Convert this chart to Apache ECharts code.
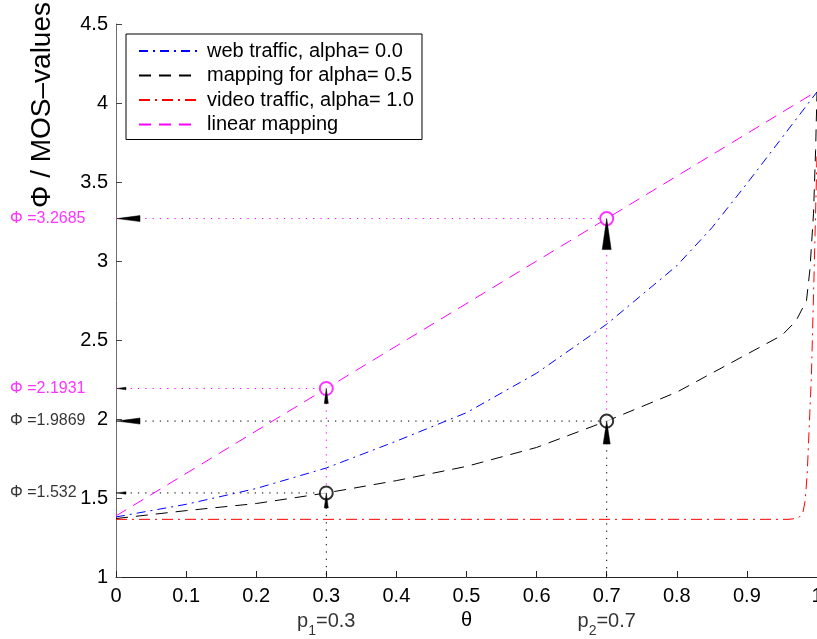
<!DOCTYPE html>
<html>
<head>
<meta charset="utf-8">
<script src="https://cdn.jsdelivr.net/npm/echarts@6/dist/echarts.min.js"></script>
<style>html,body{margin:0;padding:0;background:#fff;}#c{width:817px;height:639px;}</style>
</head>
<body>
<div id="c"></div>
<script>
// ---- data ----
const webX   = [0, 0.1, 0.2, 0.3, 0.4, 0.5, 0.6, 0.7, 0.8, 0.85, 0.9, 0.95, 1.0];
const webY   = [1.38, 1.46, 1.56, 1.69, 1.86, 2.04, 2.29, 2.60, 2.97, 3.21, 3.49, 3.78, 4.07];
const midX   = [0, 0.1, 0.2, 0.3, 0.4, 0.5, 0.6, 0.7, 0.8, 0.85, 0.9, 0.95, 0.97, 0.985, 0.99, 0.995, 0.998, 1.0];
const midY   = [1.37, 1.42, 1.465, 1.532, 1.61, 1.70, 1.82, 1.987, 2.17, 2.29, 2.41, 2.53, 2.62, 2.75, 2.95, 3.3, 3.7, 4.07];
const videoX = [0, 0.5, 0.96, 0.97, 0.975, 0.98, 0.983, 0.986, 0.992, 0.996, 1.0];
const videoY = [1.365, 1.365, 1.365, 1.37, 1.38, 1.41, 1.48, 1.65, 2.27, 2.95, 3.67];
const linX   = [0, 0.3, 0.7, 1.0];
const linY   = [1.3866, 2.1931, 3.2685, 4.0751];
const pPoints = [0.3, 0.7];
const phiLin  = [2.1931, 3.2685];
const phiMid  = [1.532, 1.9869];
const seriesNames = ['web traffic, alpha= 0.0', 'mapping for alpha= 0.5', 'video traffic, alpha= 1.0', 'linear mapping'];
const xTicks = [0, 0.1, 0.2, 0.3, 0.4, 0.5, 0.6, 0.7, 0.8, 0.9, 1];
const yTicks = [1, 1.5, 2, 2.5, 3, 3.5, 4, 4.5];

// ---- styles ----
const FONT = "'Liberation Sans', Arial, Helvetica, sans-serif";
const MAG = '#ff00ff';
const zip = (xs, ys) => xs.map((x, i) => [x, ys[i]]);

const series = [];
function curve(name, xs, ys, color, dash) {
  series.push({
    name, type: 'line', data: zip(xs, ys), showSymbol: false, symbol: 'none',
    smooth: false, lineStyle: { color, width: 1, type: dash }, itemStyle: { color }, z: 3
  });
}
curve(seriesNames[0], webX, webY, '#0000ff', [9, 5, 2, 5]);
curve(seriesNames[1], midX, midY, '#000000', [12, 8]);
curve(seriesNames[2], videoX, videoY, '#ff0000', [11, 5, 2, 5]);
curve(seriesNames[3], linX, linY, MAG, [12, 8]);

// dotted guide lines
function guide(a, b, color) {
  series.push({
    type: 'line', data: [a, b], showSymbol: false, symbol: 'none', silent: true,
    lineStyle: { color, width: 1, type: [1.3, 6] }, z: 2, legendHoverLink: false
  });
}
pPoints.forEach((p, i) => {
  guide([0, phiLin[i]], [p, phiLin[i]], MAG);
  guide([p, phiLin[i]], [p, phiMid[i]], MAG);
  guide([0, phiMid[i]], [p, phiMid[i]], '#000');
  guide([p, phiMid[i]], [p, yTicks[0]], '#000');
});

// circle markers
series.push({
  type: 'scatter', symbol: 'emptyCircle', symbolSize: 13, z: 5, silent: true,
  data: pPoints.map((p, i) => ({ value: [p, phiLin[i]], itemStyle: { color: MAG, borderColor: MAG, borderWidth: 1 } }))
    .concat(pPoints.map((p, i) => ({ value: [p, phiMid[i]], itemStyle: { color: '#000', borderColor: '#000', borderWidth: 1 } })))
});

// arrows: tip points; dir 0 = pointing up (tail below), 1 = pointing left (tail right)
const arrowTips = [];
const arrowSize = [];   // [length px, width px]
pPoints.forEach((p, i) => {
  arrowTips.push([p, phiLin[i], 0]); arrowSize.push(i ? [31, 9] : [15, 4]);
  arrowTips.push([p, phiMid[i], 0]); arrowSize.push(i ? [23, 7] : [15, 4]);
  arrowTips.push([0, phiLin[i], 1]); arrowSize.push(i ? [24, 6] : [10, 2.5]);
  arrowTips.push([0, phiMid[i], 1]); arrowSize.push(i ? [24, 6] : [10, 2.5]);
});
series.push({
  type: 'custom', z: 6, silent: true, clip: false,
  data: arrowTips,
  encode: { x: 0, y: 1 },
  renderItem: function (params, api) {
    const t = api.coord([api.value(0), api.value(1)]);
    const s = arrowSize[params.dataIndex];
    const len = s[0], hw = s[1] / 2;
    let pts;
    if (api.value(2) === 0) pts = [[t[0], t[1]], [t[0] - hw, t[1] + len], [t[0] + hw, t[1] + len]];
    else pts = [[t[0] + 1, t[1]], [t[0] + len, t[1] - hw], [t[0] + len, t[1] + hw]];
    return { type: 'polygon', shape: { points: pts }, style: { fill: '#000', stroke: '#000', lineWidth: 0.5 } };
  }
});

// Φ value labels at the left (left-aligned at the page margin)
series.push({
  type: 'scatter', symbolSize: 0, silent: true, z: 7,
  data: pPoints.map((p, i) => ({ value: [0, phiLin[i]], label: { color: MAG } }))
    .concat(pPoints.map((p, i) => ({ value: [0, phiMid[i]], label: { color: '#000' } }))),
  label: {
    show: true, position: [-106, 0], align: 'left', verticalAlign: 'middle',
    fontFamily: FONT, fontSize: 16,
    formatter: (d) => 'Φ =' + d.value[1]
  }
});

// p1 / p2 labels under the axis
series.push({
  type: 'scatter', symbolSize: 0, silent: true, z: 7,
  data: pPoints.map((p) => [p, yTicks[0]]),
  label: {
    show: true, position: 'bottom', distance: 27, fontFamily: FONT,
    formatter: (d) => '{a|p}{s|' + (d.dataIndex + 1) + '}{a|=' + d.value[0] + '}',
    rich: {
      a: { fontSize: 20, fontFamily: FONT, color: '#000', lineHeight: 22, verticalAlign: 'middle' },
      s: { fontSize: 14, fontFamily: FONT, color: '#000', lineHeight: 34, verticalAlign: 'bottom' }
    }
  }
});

const chart = echarts.init(document.getElementById('c'), null, { renderer: 'canvas' });
chart.setOption({
  animation: false,
  backgroundColor: '#ffffff',
  grid: { left: 116, right: 0, top: 24, bottom: 62, containLabel: false, outerBoundsMode: 'none' },
  legend: {
    data: seriesNames, orient: 'vertical', left: 126, top: 34,
    itemWidth: 60, itemHeight: 14, itemGap: 2.5,
    padding: [6, 8, 4, 12],
    borderColor: '#000', borderWidth: 1, backgroundColor: '#fff',
    itemStyle: { opacity: 0 },
    textStyle: { fontFamily: FONT, fontSize: 20, color: '#000', lineHeight: 22, padding: [0, 0, 0, 3] },
    selectedMode: false
  },
  xAxis: {
    type: 'value', min: xTicks[0], max: xTicks[xTicks.length - 1], interval: 0.1,
    name: 'θ', nameLocation: 'middle', nameGap: 27,
    nameTextStyle: { fontFamily: FONT, fontSize: 20, color: '#000' },
    axisLine: { lineStyle: { color: '#222', width: 1 } },
    axisTick: { inside: true, length: 6, lineStyle: { color: '#222' } },
    axisLabel: { fontFamily: FONT, fontSize: 20, color: '#000', margin: 9, showMaxLabel: true },
    splitLine: { show: false }
  },
  yAxis: {
    type: 'value', min: yTicks[0], max: yTicks[yTicks.length - 1], interval: 0.5,
    axisLine: { show: true, lineStyle: { color: '#6e6e6e', width: 1 } },
    axisTick: { show: true, inside: true, length: 6, lineStyle: { color: '#444' } },
    axisLabel: { fontFamily: FONT, fontSize: 20, color: '#000', margin: 8 },
    splitLine: { show: false }
  },
  graphic: [{
    type: 'text', x: 42, y: 2, rotation: Math.PI / 2,
    style: { text: 'Φ / MOS–values', font: "28px 'Liberation Sans', Arial, sans-serif", fill: '#000',
             align: 'right', verticalAlign: 'middle' }
  }],
  series
});
</script>
</body>
</html>
